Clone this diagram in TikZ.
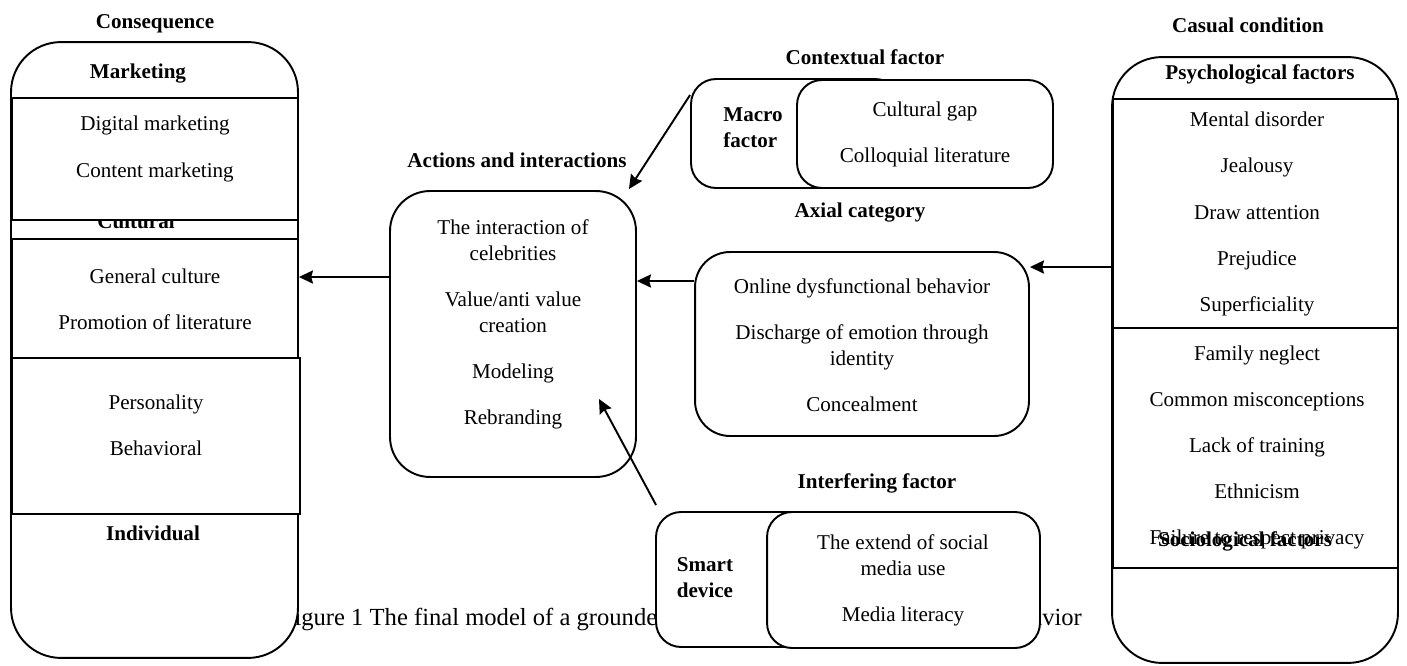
\documentclass[tikz,border=0pt]{standalone}
\usepackage{fontspec}
\setmainfont{Liberation Serif}
\usetikzlibrary{arrows.meta}
\tikzstyle{arrow} = [line width=1.1pt,-{Stealth[length=8pt,width=7.5pt,inset=1pt]}]
\tikzstyle{bigbox} = [draw, line width=1.1pt, fill=white, rounded corners=1cm, inner sep=0pt]
\tikzstyle{midbox} = [draw, line width=1.1pt, fill=white, rounded corners=0.8cm, inner sep=0pt]
\tikzstyle{smallbox} = [draw, line width=1.1pt, fill=white, rounded corners=0.5cm, inner sep=0pt]
\tikzstyle{part} = [draw, line width=1.1pt, fill=white, inner sep=0pt]
\tikzstyle{head} = [font=\fontsize{12}{14.8}\selectfont\bfseries, inner sep=0pt]
\tikzstyle{items} = [font=\fontsize{12}{14.8}\selectfont, align=center, inner sep=0pt]
\tikzstyle{caption} = [font=\fontsize{14}{17}\selectfont, inner sep=0pt]

\begin{document}
\begin{tikzpicture}[x=0.02cm,y=-0.02cm]
\useasboundingbox (0,0) rectangle (1407,666);

% caption, mostly hidden behind the boxes
\node[caption, anchor=base west] (capa) at (280.5,625) {Figure 1 The final model of a grounded};
\node[caption, anchor=base west] (capb) at (995.5,625) {behavior};

% consequence
\node[bigbox, minimum width=5.74cm, minimum height=12.32cm] (cons) at (154.5,350) {};
\node[head, anchor=base] (tcult) at (136,228) {Cultural};
\node[part, minimum width=5.72cm, minimum height=2.44cm] (mkt) at (155,159) {};
\node[part, minimum width=5.72cm, minimum height=2.38cm] (cult) at (155,298.5) {};
\node[part, minimum width=5.76cm, minimum height=3.12cm] (indiv) at (156,436) {};
\node[head] (tcons) at (155,24) {Consequence};
\node[head] (tmkt) at (138,74) {Marketing};
\node[items] (imkt) at (155,149) {Digital marketing\\[11.5pt]Content marketing};
\node[items] (icult) at (155,299) {General culture\\[11.5pt]Promotion of literature};
\node[items] (iindiv) at (156,425) {Personality\\[11.5pt]Behavioral};
\node[head] (tindiv) at (153,533) {Individual};

% casual condition
\node[bigbox, minimum width=5.72cm, minimum height=12.12cm] (caus) at (1255,360) {};
\node[part, minimum width=5.7cm, minimum height=4.58cm] (psy) at (1255.5,213.5) {};
\node[part, minimum width=5.7cm, minimum height=4.8cm] (soc) at (1255.5,448) {};
\node[head] (tcaus) at (1248,25) {Casual condition};
\node[head] (tpsy) at (1260,74) {Psychological factors};
\node[items] (ipsy) at (1257,214) {Mental disorder\\[11.5pt]Jealousy\\[11.5pt]Draw attention\\[11.5pt]Prejudice\\[11.5pt]Superficiality};
\node[items] (isoc) at (1257,447.5) {Family neglect\\[11.5pt]Common misconceptions\\[11.5pt]Lack of training\\[11.5pt]Ethnicism\\[11.5pt]Failure to respect privacy};
\node[head] (tsoc) at (1245,541) {Sociological factors};

% actions and interactions
\node[midbox, minimum width=4.92cm, minimum height=5.72cm] (act) at (513,334) {};
\node[head] (tact) at (517,160) {Actions and interactions};
\node[items] (iact) at (513,324.5) {The interaction of\\celebrities\\[11.5pt]Value/anti value\\creation\\[11.5pt]Modeling\\[11.5pt]Rebranding};

% axial category
\node[midbox, rounded corners=0.7cm, minimum width=6.68cm, minimum height=3.68cm] (axial) at (862,344) {};
\node[head] (taxial) at (860,213) {Axial category};
\node[items] (iaxial) at (862,345) {Online dysfunctional behavior\\[11.5pt]Discharge of emotion through\\identity\\[11.5pt]Concealment};

% contextual factor
\node[smallbox, minimum width=4.18cm, minimum height=2.18cm] (macro) at (795.5,133.5) {};
\node[smallbox, minimum width=5.12cm, minimum height=2.16cm] (cgap) at (925,134) {};
\node[head] (tctx) at (865,57) {Contextual factor};
\node[head, align=left] (tmacro) at (753,127.5) {Macro\\factor};
\node[items] (icgap) at (925,134.5) {Cultural gap\\[11.5pt]Colloquial literature};

% interfering factor
\node[smallbox, minimum width=4.88cm, minimum height=2.7cm] (smart) at (778,579.5) {};
\node[smallbox, minimum width=5.46cm, minimum height=2.72cm] (media) at (903.5,580) {};
\node[head] (tintf) at (877,483) {Interfering factor};
\node[head, align=left] (tsmart) at (705,577.5) {Smart\\device};
\node[items] (imedia) at (903,580) {The extend of social\\media use\\[11.5pt]Media literacy};

% connectors
\draw[arrow] ([yshift=1.14cm]act.west) -- ([yshift=1.14cm]act.west -| cons.east);
\draw[arrow] ([yshift=1.26cm]axial.west) -- ([yshift=1.26cm]axial.west -| act.east);
\draw[arrow] ([yshift=1.86cm]caus.west) -- ([yshift=1.86cm]caus.west -| axial.east);
\draw[arrow] ([yshift=0.77cm]macro.west) -- ([xshift=-0.16cm,yshift=0.02cm]act.north east);
\draw[arrow] ([xshift=0.02cm,yshift=0.12cm]smart.north west) -- ([xshift=1.72cm,yshift=-1.3cm]act.center);

\end{tikzpicture}
\end{document}
